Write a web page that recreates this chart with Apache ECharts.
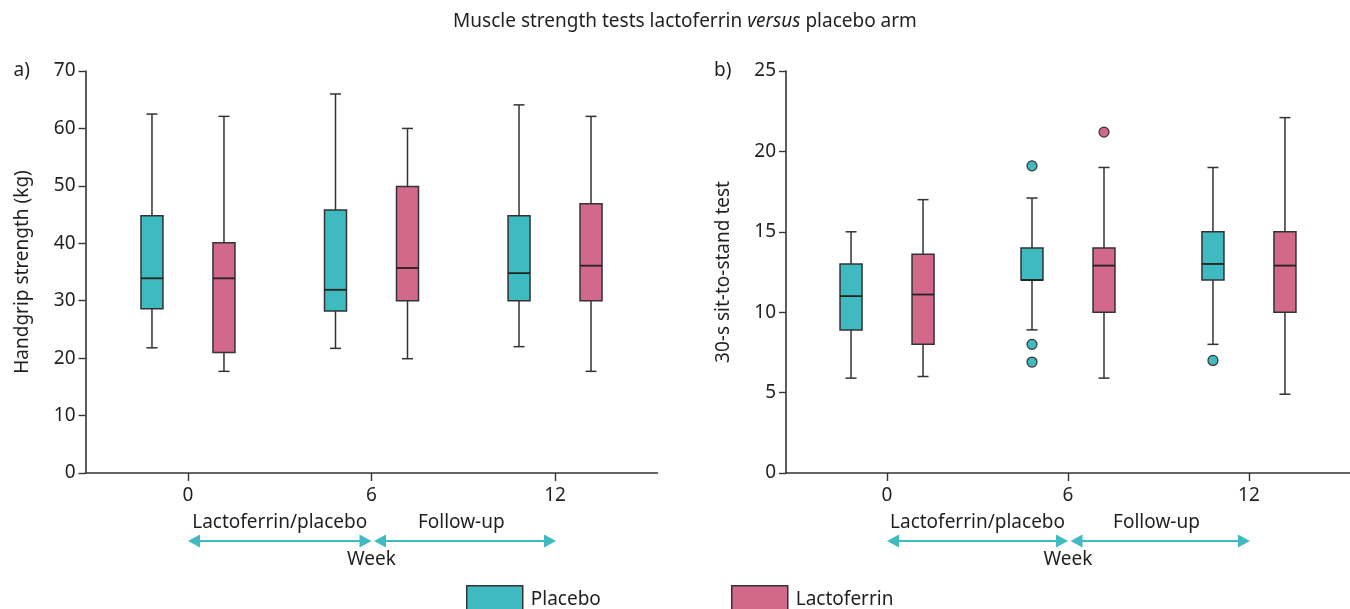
<!DOCTYPE html>
<html><head><meta charset="utf-8">
<script src="https://cdn.jsdelivr.net/npm/echarts@6/dist/echarts.min.js"></script>
<style>html,body{margin:0;padding:0;background:#fff}#c{width:1350px;height:609px}</style>
</head><body><div id="c"></div>
<script>
// ---- data ----
const weeks = [0, 6, 12];
// each row: [min, Q1, median, Q3, max]
const placeboHandgrip     = [[21.8, 28.6, 33.9, 44.8, 62.5], [21.7, 28.2, 31.9, 45.8, 66.0], [22.0, 30.0, 34.8, 44.8, 64.1]];
const lactoferrinHandgrip = [[17.7, 21.0, 33.9, 40.1, 62.1], [19.9, 30.0, 35.7, 49.9, 60.0], [17.7, 30.0, 36.1, 46.9, 62.1]];
const placeboSitStand     = [[5.9, 8.9, 11.0, 13.0, 15.0], [8.9, 12.0, 12.0, 14.0, 17.1], [8.0, 12.0, 13.0, 15.0, 19.0]];
const lactoferrinSitStand = [[6.0, 8.0, 11.1, 13.6, 17.0], [5.9, 10.0, 12.9, 14.0, 19.0], [4.9, 10.0, 12.9, 15.0, 22.1]];
// outliers: [week, value]
const placeboSitOutliers     = [[6, 19.1], [6, 8.0], [6, 6.9], [12, 7.0]];
const lactoferrinSitOutliers = [[6, 21.2]];
const handgripTicks = [0, 10, 20, 30, 40, 50, 60, 70];
const sitStandTicks = [0, 5, 10, 15, 20, 25];
const seriesNames = ['Placebo', 'Lactoferrin'];
const phaseLabels = ['Lactoferrin/placebo', 'Follow-up'];

// ---- style ----
const TEAL = '#40bac1', PINK = '#d3698a', INK = '#333333', TXT = '#231f20';
const FONT = '"Noto Sans", sans-serif';
const FS = 19;
const OFFSET = 36, HALF = 11, CAP = 5.5;

const chart = echarts.init(document.getElementById('c'));

function boxRender(side, color) {
  return function (params, api) {
    const w = api.value(0);
    const cx = api.coord([w, 0])[0] + side * OFFSET;
    const y = [1, 2, 3, 4, 5].map(i => api.coord([w, api.value(i)])[1]);
    const ls = { stroke: INK, lineWidth: 1.5 };
    return {
      type: 'group',
      children: [
        { type: 'line', shape: { x1: cx, y1: y[4], x2: cx, y2: y[3] }, style: ls },
        { type: 'line', shape: { x1: cx, y1: y[1], x2: cx, y2: y[0] }, style: ls },
        { type: 'line', shape: { x1: cx - CAP, y1: y[4], x2: cx + CAP, y2: y[4] }, style: ls },
        { type: 'line', shape: { x1: cx - CAP, y1: y[0], x2: cx + CAP, y2: y[0] }, style: ls },
        { type: 'rect', shape: { x: cx - HALF, y: y[3], width: 2 * HALF, height: y[1] - y[3] }, style: { fill: color, stroke: INK, lineWidth: 1.5 } },
        { type: 'line', shape: { x1: cx - HALF, y1: y[2], x2: cx + HALF, y2: y[2] }, style: { stroke: '#222', lineWidth: 1.8 } }
      ]
    };
  };
}
function rows(stats) { return weeks.map((w, i) => [w].concat(stats[i])); }

function xAxisCfg(gi) {
  return {
    type: 'value', gridIndex: gi, min: -3.35, max: 15.35,
    name: 'Week', nameLocation: 'middle', nameGap: 77,
    nameTextStyle: { fontSize: FS, color: TXT, fontFamily: FONT },
    axisLine: { show: true, onZero: false, lineStyle: { color: INK, width: 1.6 } },
    axisTick: { show: true, length: 8, customValues: weeks, lineStyle: { color: INK, width: 1.4 } },
    axisLabel: { customValues: weeks, fontSize: FS, color: TXT, margin: 13, fontFamily: FONT },
    splitLine: { show: false }
  };
}
function yAxisCfg(gi, ticks, name) {
  return {
    type: 'value', gridIndex: gi, min: ticks[0], max: ticks[ticks.length - 1], interval: ticks[1] - ticks[0],
    name: name, nameLocation: 'middle', nameGap: 53,
    nameTextStyle: { fontSize: FS, color: TXT, fontFamily: FONT },
    axisLine: { show: true, onZero: false, lineStyle: { color: INK, width: 1.6 } },
    axisTick: { show: true, length: 7, lineStyle: { color: INK, width: 1.4 } },
    axisLabel: { fontSize: FS, color: TXT, margin: 10, fontFamily: FONT },
    splitLine: { show: false }
  };
}
function boxSeries(name, side, color, stats, gi) {
  return {
    type: 'custom', name: name, xAxisIndex: gi, yAxisIndex: gi,
    itemStyle: { color: color, borderColor: INK, borderWidth: 1.5 },
    renderItem: boxRender(side, color),
    encode: { x: 0, y: [1, 2, 3, 4, 5] },
    data: rows(stats), clip: false
  };
}
function outlierSeries(name, side, color, pts, gi) {
  return {
    type: 'scatter', name: name, xAxisIndex: gi, yAxisIndex: gi,
    symbol: 'circle', symbolSize: 10, symbolOffset: [side * OFFSET, 0],
    itemStyle: { color: color, borderColor: INK, borderWidth: 1.2, opacity: 1 },
    data: pts
  };
}
function legendCfg(name, color, left) {
  return {
    left: left, top: 585, padding: 0, itemWidth: 56, itemHeight: 28, selectedMode: false,
    textStyle: { fontSize: FS, color: TXT, fontFamily: FONT, padding: [0, 0, 0, 3] },
    data: [{ name: name, icon: 'rect', itemStyle: { color: color, borderColor: INK, borderWidth: 1.5 } }]
  };
}

const option = {
  animation: false,
  backgroundColor: '#fff',
  textStyle: { fontFamily: FONT },
  title: {
    text: 'Muscle strength tests lactoferrin {i|versus} placebo arm',
    left: 685, textAlign: 'center', top: 12, padding: 0,
    textStyle: { fontSize: FS, fontWeight: 'normal', color: TXT, fontFamily: FONT,
      rich: { i: { fontStyle: 'italic', fontSize: FS, color: TXT, fontFamily: FONT } } }
  },
  legend: [legendCfg(seriesNames[0], TEAL, 466), legendCfg(seriesNames[1], PINK, 731)],
  grid: [
    { left: 85.5, top: 71, width: 572, height: 402 },
    { left: 786, top: 71, width: 572, height: 402 }
  ],
  xAxis: [xAxisCfg(0), xAxisCfg(1)],
  yAxis: [yAxisCfg(0, handgripTicks, 'Handgrip strength (kg)'), yAxisCfg(1, sitStandTicks, '30-s sit-to-stand test')],
  series: [
    boxSeries(seriesNames[0], -1, TEAL, placeboHandgrip, 0),
    boxSeries(seriesNames[1], 1, PINK, lactoferrinHandgrip, 0),
    boxSeries(seriesNames[0], -1, TEAL, placeboSitStand, 1),
    boxSeries(seriesNames[1], 1, PINK, lactoferrinSitStand, 1),
    outlierSeries(seriesNames[0], -1, TEAL, placeboSitOutliers, 1),
    outlierSeries(seriesNames[1], 1, PINK, lactoferrinSitOutliers, 1)
  ]
};
chart.setOption(option);

// annotations tied to axes
const graphics = [];
['a)', 'b)'].forEach((lab, gi) => {
  const gx = chart.convertToPixel({ xAxisIndex: gi }, -3.35);
  const gy = chart.convertToPixel({ yAxisIndex: gi }, gi === 0 ? 70 : 25);
  graphics.push({ type: 'text', x: gx - 72, y: gy, style: { text: lab, font: FS + 'px ' + FONT, fill: TXT, textVerticalAlign: 'middle' } });
  const p = weeks.map(w => chart.convertToPixel({ xAxisIndex: gi }, w));
  const base = chart.convertToPixel({ yAxisIndex: gi }, 0);
  const ay = base + 68, ty = base + 50;
  graphics.push({ type: 'text', x: (p[0] + p[1]) / 2, y: ty, style: { text: phaseLabels[0], font: FS + 'px ' + FONT, fill: TXT, textAlign: 'center', textVerticalAlign: 'middle' } });
  graphics.push({ type: 'text', x: (p[1] + p[2]) / 2 - 2, y: ty, style: { text: phaseLabels[1], font: FS + 'px ' + FONT, fill: TXT, textAlign: 'center', textVerticalAlign: 'middle' } });
  [[p[0], p[1]], [p[1] + 2.5, p[2] + 1]].forEach(([a, b]) => {
    graphics.push({ type: 'line', shape: { x1: a + 6, y1: ay, x2: b - 6, y2: ay }, style: { stroke: TEAL, lineWidth: 2 } });
    graphics.push({ type: 'polygon', shape: { points: [[a, ay], [a + 12, ay - 6.5], [a + 12, ay + 6.5]] }, style: { fill: TEAL } });
    graphics.push({ type: 'polygon', shape: { points: [[b, ay], [b - 12, ay - 6.5], [b - 12, ay + 6.5]] }, style: { fill: TEAL } });
  });
});
chart.setOption({ graphic: graphics });
</script>
</body></html>
